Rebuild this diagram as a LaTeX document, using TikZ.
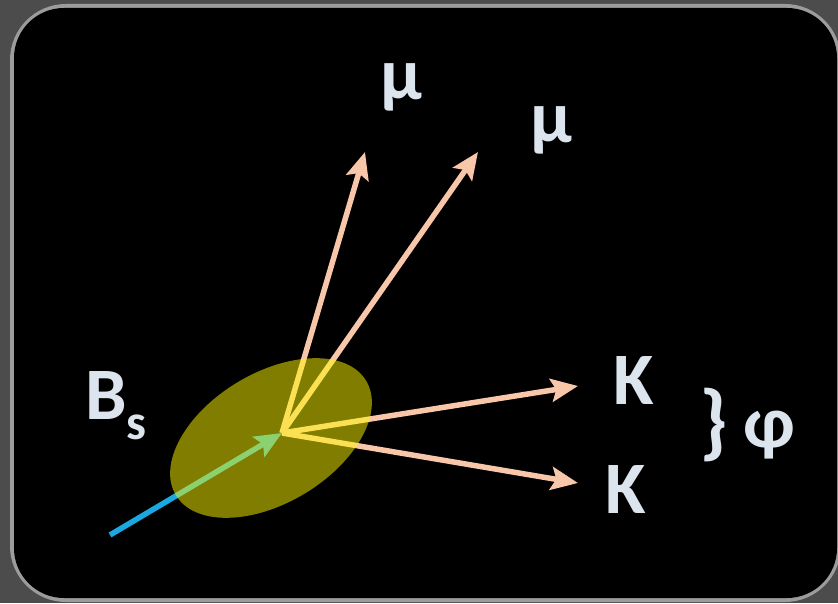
\documentclass[tikz,border=0pt]{standalone}
\usepackage{fontspec}
\setmainfont{Carlito}
\usetikzlibrary{arrows.meta,positioning}
\definecolor{frame}{HTML}{4C4C4C}
\definecolor{rim}{HTML}{9C9C9C}
\definecolor{peach}{HTML}{F8C6A8}
\definecolor{beam}{HTML}{1AA8E2}
\definecolor{glow}{HTML}{FFFA00}
\definecolor{ink}{HTML}{DCE5EE}

\begin{document}
\begin{tikzpicture}[x=1pt,y=1pt,>={Stealth[length=27pt,width=23pt,inset=5pt]},
  font=\fontsize{74}{80}\selectfont\bfseries,
  track/.style={->,peach,line width=5.5pt},
  lbl/.style={ink,inner sep=0pt,anchor=base}]
  \useasboundingbox (0,0) rectangle (838,603);
  % frame and screen
  \fill[frame] (0,0) rectangle (838,603);
  \draw[rim,line width=8pt,rounded corners=52pt] (14,5) rectangle (837,595);
  \fill[black,rounded corners=50pt] (14,5) rectangle (837,595);
  % decay vertex and track ends
  \coordinate (vtx) at (282,170);
  \coordinate (src) at (110,68);
  \coordinate (mutip1) at (365,451);
  \coordinate (mutip2) at (478,451);
  \coordinate (ktip1) at (578,217);
  \coordinate (ktip2) at (578,120);
  \draw[->,beam,line width=5.5pt] (src) -- (vtx);
  \draw[track] (vtx) -- (mutip1);
  \draw[track] (vtx) -- (mutip2);
  \draw[track] (vtx) -- (ktip1);
  \draw[track] (vtx) -- (ktip2);
  % vertex region
  \fill[glow,opacity=0.5,rotate around={31:(271,165)}] (271,165) ellipse [x radius=111,y radius=65];
  % labels
  \node[lbl] (mu1) at (401,503) {μ};
  \node[lbl] (mu2) at (551,460) {μ};
  \node[lbl] (k1) at (634,198) {K};
  \node[lbl] (k2) at (626,90) {K};
  \node[lbl,anchor=base west] (bs) at (85,183) {B\raisebox{-0.27em}{\fontsize{50}{54}\selectfont s}};
  \node[ink,inner sep=0pt] (brace) at (714,178) {\fontsize{84}{90}\selectfont\}};
  \node[ink,inner sep=0pt] (phi) at (769,168) {φ};
\end{tikzpicture}
\end{document}
